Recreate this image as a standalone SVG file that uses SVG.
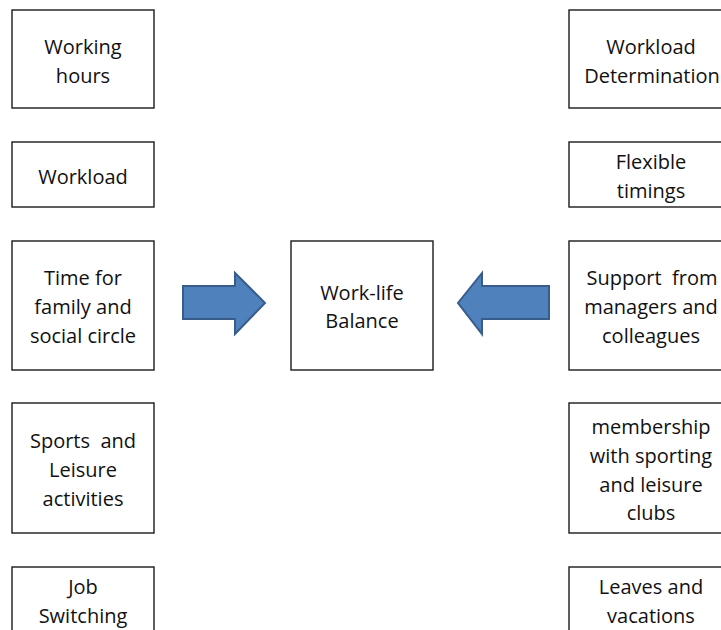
<svg xmlns="http://www.w3.org/2000/svg" width="721" height="630" viewBox="0 0 721 630">
  <style>
    .box { fill: #ffffff; stroke: #1a1a1a; stroke-width: 1.4; }
    .lbl { font-family: "Open Sans", "Liberation Sans", sans-serif; font-size: 20px; fill: #111111; text-anchor: middle; dominant-baseline: central; }
    .arrow { fill: #4f81bd; stroke: #385d8a; stroke-width: 2; stroke-linejoin: miter; }
  </style>
  <rect width="721" height="630" fill="#ffffff"/>

  <!-- left column -->
  <g id="working-hours">
    <rect class="box" x="12" y="10" width="142" height="98"/>
    <text class="lbl" x="83" y="46">Working</text>
    <text class="lbl" x="83" y="75">hours</text>
  </g>
  <g id="workload">
    <rect class="box" x="12" y="142" width="142" height="65"/>
    <text class="lbl" x="83" y="176">Workload</text>
  </g>
  <g id="family-time">
    <rect class="box" x="12" y="241" width="142" height="129"/>
    <text class="lbl" x="83" y="277">Time for</text>
    <text class="lbl" x="83" y="306">family and</text>
    <text class="lbl" x="83" y="335">social circle</text>
  </g>
  <g id="sports-leisure">
    <rect class="box" x="12" y="403" width="142" height="130"/>
    <text class="lbl" x="83" y="440" xml:space="preserve">Sports  and</text>
    <text class="lbl" x="83" y="469">Leisure</text>
    <text class="lbl" x="83" y="498">activities</text>
  </g>
  <g id="job-switching">
    <rect class="box" x="12" y="567" width="142" height="80"/>
    <text class="lbl" x="83" y="586">Job</text>
    <text class="lbl" x="83" y="615">Switching</text>
  </g>

  <!-- centre -->
  <g id="work-life-balance">
    <rect class="box" x="291" y="241" width="142" height="129"/>
    <text class="lbl" x="362" y="292">Work-life</text>
    <text class="lbl" x="362" y="320">Balance</text>
  </g>

  <!-- right column -->
  <g id="workload-determination">
    <rect class="box" x="569" y="10" width="164" height="98"/>
    <text class="lbl" x="651" y="46">Workload</text>
    <text class="lbl" x="652" y="75">Determination</text>
  </g>
  <g id="flexible-timings">
    <rect class="box" x="569" y="142" width="164" height="65"/>
    <text class="lbl" x="651" y="161">Flexible</text>
    <text class="lbl" x="651" y="190">timings</text>
  </g>
  <g id="manager-support">
    <rect class="box" x="569" y="241" width="164" height="129"/>
    <text class="lbl" x="652" y="277" xml:space="preserve">Support  from</text>
    <text class="lbl" x="651" y="306">managers and</text>
    <text class="lbl" x="651" y="335">colleagues</text>
  </g>
  <g id="club-membership">
    <rect class="box" x="569" y="403" width="164" height="130"/>
    <text class="lbl" x="651" y="426">membership</text>
    <text class="lbl" x="651" y="455">with sporting</text>
    <text class="lbl" x="651" y="484">and leisure</text>
    <text class="lbl" x="651" y="512">clubs</text>
  </g>
  <g id="leaves-vacations">
    <rect class="box" x="569" y="567" width="164" height="80"/>
    <text class="lbl" x="651" y="586">Leaves and</text>
    <text class="lbl" x="651" y="615">vacations</text>
  </g>

  <!-- block arrows into the centre -->
  <g id="connectors">
    <path class="arrow" d="M183,286 L235,286 L235,273 L265,303 L235,334 L235,319 L183,319 Z"/>
    <path class="arrow" d="M549,286 L482,286 L482,273 L458,303 L482,334 L482,319 L549,319 Z"/>
  </g>
</svg>
